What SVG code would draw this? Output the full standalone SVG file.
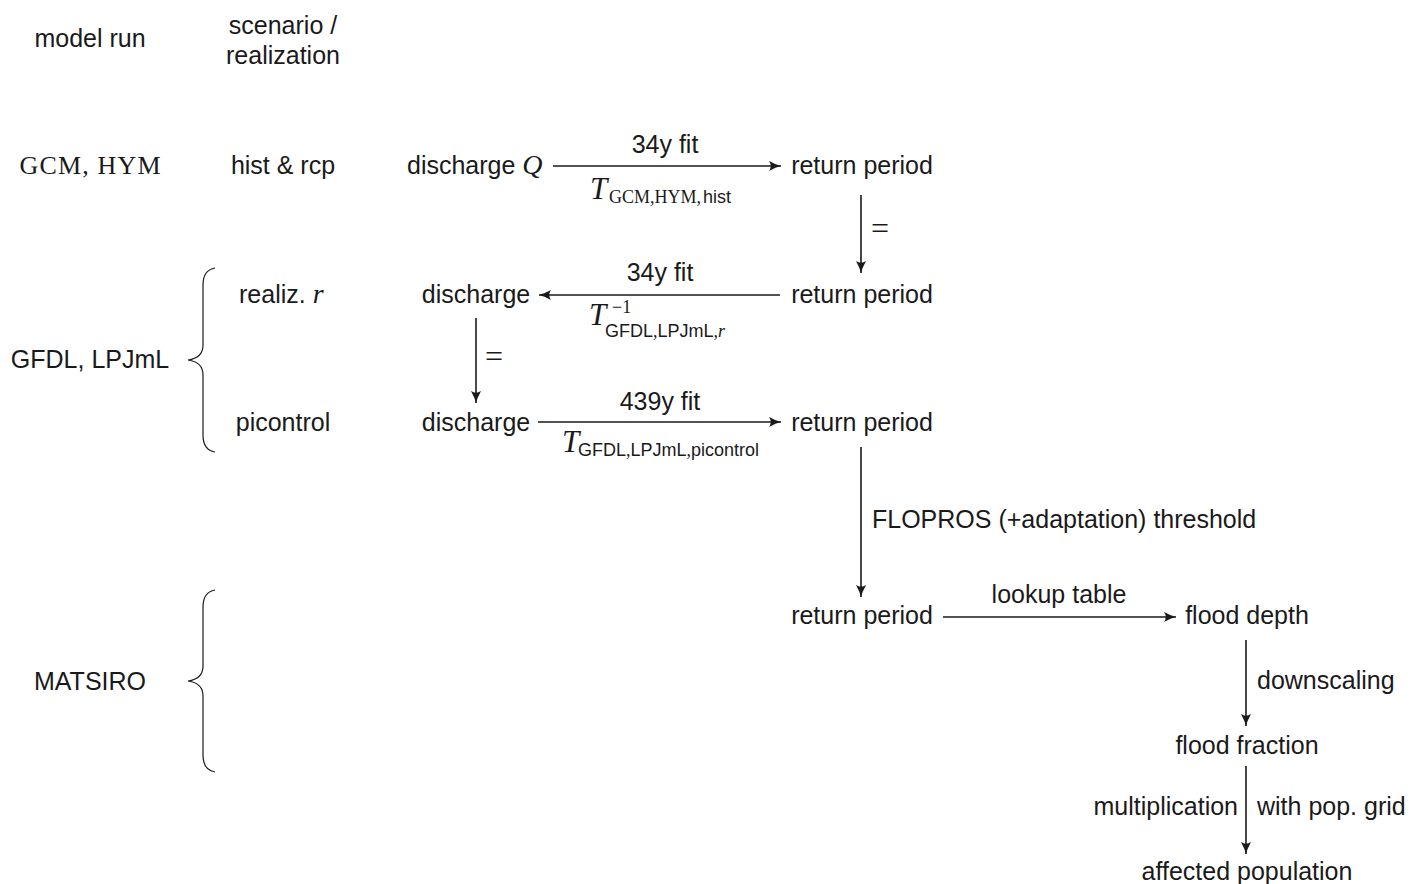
<svg xmlns="http://www.w3.org/2000/svg" width="1413" height="884" viewBox="0 0 1413 884">
  <style>
    .t { font-family: "Liberation Sans", Arial, sans-serif; font-size: 25px; fill: #1a1a1a; font-style: normal; }
    .c { text-anchor: middle; }
    .r { text-anchor: end; }
    .m { font-family: "Liberation Serif", "Times New Roman", serif; font-size: 26px; fill: #1a1a1a; font-style: normal; }
    .mi { font-family: "Liberation Serif", "Times New Roman", serif; font-style: italic; font-size: 28px; fill: #1a1a1a; }
    .bigT { font-family: "Liberation Serif", "Times New Roman", serif; font-style: italic; font-size: 31px; fill: #1a1a1a; }
    .sub { font-size: 18px; }
    .msub { font-family: "Liberation Serif", "Times New Roman", serif; font-size: 18px; fill: #1a1a1a; }
    .eq { font-family: "Liberation Serif", "Times New Roman", serif; font-size: 32px; fill: #1a1a1a; }
    .edge { stroke: #1a1a1a; stroke-width: 1.6; fill: none; marker-end: url(#tip); }
    .brace { stroke: #1a1a1a; stroke-width: 1.2; fill: none; }
  </style>
  <defs>
    <marker id="tip" viewBox="0 0 13 11" refX="12" refY="5.5" markerWidth="13" markerHeight="11" markerUnits="userSpaceOnUse" orient="auto">
      <path d="M0,0.5 Q7,4.3 12,5.5 Q7,6.7 0,10.5 Q3.5,5.5 0,0.5 Z" fill="#1a1a1a"/>
    </marker>
  </defs>

  <rect width="1413" height="884" fill="#ffffff"/>

  <!-- column headers -->
  <g id="header-model"><text class="t c" x="90" y="47">model run</text></g>
  <g id="header-scenario">
    <text class="t c" x="283" y="34">scenario /</text>
    <text class="t c" x="283" y="64">realization</text>
  </g>

  <!-- model runs -->
  <g id="run-gcm"><text class="m c" x="90" y="174" textLength="141">GCM, HYM</text></g>
  <g id="run-gfdl"><text class="t c" x="90" y="368">GFDL, LPJmL</text></g>
  <g id="run-matsiro"><text class="t c" x="90" y="690">MATSIRO</text></g>

  <!-- scenarios -->
  <g id="sc-hist"><text class="t c" x="283" y="174">hist &amp; rcp</text></g>
  <g id="sc-realiz"><text class="t" x="239" y="303">realiz. <tspan class="mi">r</tspan></text></g>
  <g id="sc-picontrol"><text class="t c" x="283" y="431">picontrol</text></g>

  <!-- braces grouping runs -->
  <g id="brace-gfdl">
    <path class="brace" d="M215,268 Q203,270 203,285 L203,345 Q203,358 188,360 Q203,362 203,375 L203,435 Q203,450 215,452"/>
  </g>
  <g id="brace-matsiro">
    <path class="brace" d="M215,590 Q203,592 203,607 L203,666 Q203,679 188,681 Q203,683 203,696 L203,755 Q203,770 215,772"/>
  </g>

  <!-- quantity nodes -->
  <g id="q-hist"><text class="t" x="407" y="174">discharge <tspan class="mi">Q</tspan></text></g>
  <g id="rp-hist"><text class="t c" x="862" y="174">return period</text></g>
  <g id="rp-real"><text class="t c" x="862" y="303">return period</text></g>
  <g id="q-real"><text class="t c" x="476" y="303">discharge</text></g>
  <g id="q-pic"><text class="t c" x="476" y="431">discharge</text></g>
  <g id="rp-pic"><text class="t c" x="862" y="431">return period</text></g>
  <g id="rp-thr"><text class="t c" x="862" y="624">return period</text></g>
  <g id="depth"><text class="t c" x="1247" y="624">flood depth</text></g>
  <g id="fraction"><text class="t c" x="1247" y="754">flood fraction</text></g>
  <g id="affected"><text class="t c" x="1247" y="880">affected population</text></g>

  <!-- connectors and their labels -->
  <g id="connectors">
    <line class="edge" x1="553" y1="166" x2="781" y2="166"/>
    <line class="edge" x1="780" y1="295" x2="539" y2="295"/>
    <line class="edge" x1="538" y1="422" x2="781" y2="422"/>
    <line class="edge" x1="943" y1="617" x2="1176" y2="617"/>
    <line class="edge" x1="861" y1="195" x2="861" y2="273"/>
    <line class="edge" x1="476" y1="318" x2="476" y2="403"/>
    <line class="edge" x1="861" y1="447" x2="861" y2="597"/>
    <line class="edge" x1="1246" y1="640" x2="1246" y2="726"/>
    <line class="edge" x1="1246" y1="766" x2="1246" y2="854"/>

    <text class="t c" x="665" y="153">34y fit</text>
    <text class="bigT" x="590" y="199">T</text>
    <text class="msub" x="609" y="203">GCM,HYM,</text>
    <text class="t sub" x="703" y="203">hist</text>

    <text class="eq" x="871" y="239">=</text>

    <text class="t c" x="660" y="281">34y fit</text>
    <text class="bigT" x="589" y="325">T</text>
    <text class="m sub" x="612" y="313">−1</text>
    <text class="t sub" x="605" y="337">GFDL<tspan class="m sub">,</tspan>LPJmL<tspan class="m sub">,</tspan><tspan class="mi sub">r</tspan></text>

    <text class="eq" x="485" y="367">=</text>

    <text class="t c" x="660" y="410">439y fit</text>
    <text class="bigT" x="562" y="452">T</text>
    <text class="t sub" x="578" y="456">GFDL<tspan class="m sub">,</tspan>LPJmL<tspan class="m sub">,</tspan>picontrol</text>

    <text class="t" x="872" y="528">FLOPROS (+adaptation) threshold</text>
    <text class="t c" x="1059" y="603">lookup table</text>
    <text class="t" x="1257" y="689">downscaling</text>
    <text class="t r" x="1238" y="815">multiplication</text>
    <text class="t" x="1257" y="815">with pop. grid</text>
  </g>
</svg>
